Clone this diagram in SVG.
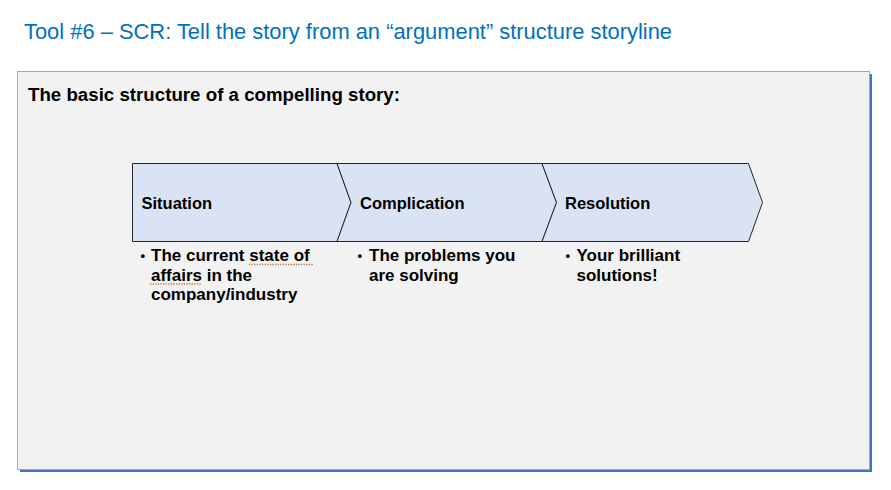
<svg xmlns="http://www.w3.org/2000/svg" width="891" height="490" viewBox="0 0 891 490">
<style>
.title{font-family:"Liberation Sans",Arial,sans-serif;font-size:22.5px;fill:#0070c0}
.head{font-family:"Liberation Sans",Arial,sans-serif;font-weight:bold;font-size:18px;fill:#000}
.lbl{font-family:"Liberation Sans",Arial,sans-serif;font-weight:bold;font-size:16.5px;fill:#000}
.txt{font-family:"Liberation Sans",Arial,sans-serif;font-weight:bold;font-size:17px;fill:#000}
.blt{font-family:"Liberation Sans",Arial,sans-serif;font-weight:bold;font-size:13px;fill:#000}
.shape{fill:#dae3f3;stroke:#262626;stroke-width:1}
.sq{stroke:#c07a3a;stroke-width:1.3;stroke-dasharray:1.3 1.3;fill:none}
</style>
<rect width="891" height="490" fill="#ffffff"/>
<text class="title" x="24" y="39" textLength="648" lengthAdjust="spacingAndGlyphs">Tool #6 – SCR: Tell the story from an “argument” structure storyline</text>
<g id="panel">
<rect x="20" y="74" width="852" height="398" fill="#4472c4"/>
<rect x="17.5" y="71.5" width="852" height="398" fill="#f2f2f2" stroke="#8eaadb" stroke-width="1"/>
<text class="head" x="28" y="101" textLength="372" lengthAdjust="spacingAndGlyphs">The basic structure of a compelling story:</text>
</g>
<g id="situation">
<path class="shape" d="M132.5,163.5 L337,163.5 L351,202.5 L337,241.5 L132.5,241.5 Z"/>
<text class="lbl" x="141.5" y="209">Situation</text>
<text class="blt" x="140.5" y="259.5">•</text>
<text class="txt" x="151" y="261">The current state of</text>
<text class="txt" x="151" y="280.5">affairs in the</text>
<text class="txt" x="151" y="300">company/industry</text>
<line class="sq" x1="249" y1="264.5" x2="313" y2="264.5"/>
<line class="sq" x1="150" y1="284" x2="201" y2="284"/>
</g>
<g id="complication">
<path class="shape" d="M337,163.5 L542,163.5 L556.5,202.5 L542,241.5 L337,241.5 L351,202.5 Z"/>
<text class="lbl" x="360" y="209">Complication</text>
<text class="blt" x="357.5" y="259.5">•</text>
<text class="txt" x="369" y="261">The problems you</text>
<text class="txt" x="369" y="280.5">are solving</text>
</g>
<g id="resolution">
<path class="shape" d="M542,163.5 L748.5,163.5 L762.5,202.5 L748.5,241.5 L542,241.5 L556.5,202.5 Z"/>
<text class="lbl" x="565" y="209">Resolution</text>
<text class="blt" x="565.5" y="259.5">•</text>
<text class="txt" x="576.5" y="261">Your brilliant</text>
<text class="txt" x="576.5" y="280.5">solutions!</text>
</g>
<g id="connectors"></g>
</svg>
